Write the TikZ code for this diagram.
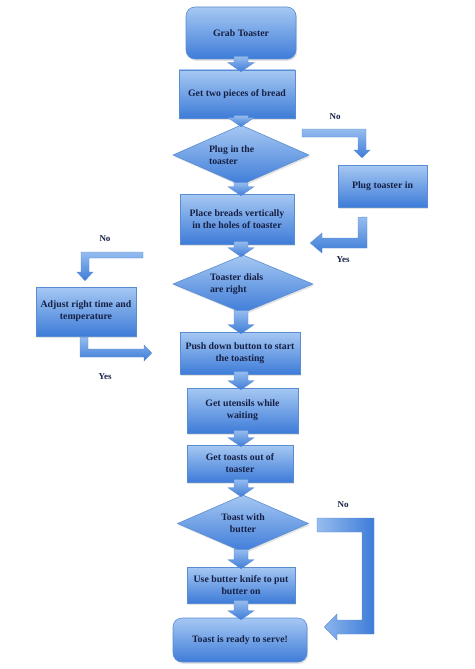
\documentclass[tikz,border=0pt]{standalone}
\usepackage{fontspec}
\setmainfont{Liberation Serif}
\usetikzlibrary{shapes.geometric,calc,shadows}
\definecolor{boxtop}{RGB}{166,200,243}
\definecolor{boxbot}{RGB}{62,124,216}
\definecolor{boxline}{RGB}{90,140,210}
\definecolor{txt}{RGB}{22,32,68}
\newcommand\vArr[2]{%
  \coordinate (s) at (col |- #1.south);
  \coordinate (t) at ($(col |- #2.north)+(0,2)$);
  \path[arr] ($(s)+(-7,-3)$) -- ($(t)+(-7,-9)$) -- ($(t)+(-13,-9)$) -- (t) --
    ($(t)+(13,-9)$) -- ($(t)+(7,-9)$) -- ($(s)+(7,-3)$) -- cycle;
}
\begin{document}
\begin{tikzpicture}[x=1pt,y=-1pt,
  blk/.style={draw=boxline, line width=0.6pt, top color=boxtop, bottom color=boxbot,
    font=\bfseries\fontsize{9.8}{12}\selectfont, text=txt, align=center, inner sep=2pt,
    drop shadow={opacity=0.22, shadow xshift=1.2pt, shadow yshift=-1.8pt}},
  rbox/.style={blk, rectangle},
  rrbox/.style={blk, rectangle, rounded corners=9pt},
  dbox/.style={blk, diamond, inner sep=1pt},
  arr/.style={draw=boxline, line width=0.4pt, top color=boxtop!85!boxbot, bottom color=boxbot},
  arrlr/.style={draw=boxline, line width=0.4pt, left color=boxtop!85!boxbot, right color=boxbot},
  lbl/.style={font=\bfseries\fontsize{9}{11}\selectfont, text=txt}
]
\useasboundingbox (0,0) rectangle (474,669);
\coordinate (col) at (241,0);

\node[rrbox, minimum width=110pt, minimum height=52pt] (grab) at (241,33) {Grab Toaster};
\node[rbox, minimum width=116pt, minimum height=48pt] (get) at (237,94) {Get two pieces of bread};
\node[dbox, minimum width=136pt, minimum height=60pt, aspect=2.27, text width=64pt, align=flush left] (plug) at (241,155) {Plug in the\\toaster};
\node[rbox, minimum width=114pt, minimum height=50pt] (place) at (237,219) {Place breads vertically\\in the holes of toaster};
\node[rbox, minimum width=89pt, minimum height=42pt] (plugin) at (382.5,186) {Plug toaster in};
\node[dbox, minimum width=140pt, minimum height=58pt, aspect=2.41, text width=66pt, align=flush left] (dials) at (243,284) {Toaster dials\\are right};
\node[rbox, minimum width=100pt, minimum height=49pt] (adjust) at (86,311.5) {Adjust right time and\\temperature};
\node[rbox, minimum width=120pt, minimum height=42pt] (push) at (240,353) {Push down button to start\\the toasting};
\node[rbox, minimum width=111pt, minimum height=45pt] (utensils) at (242.5,410.5) {Get utensils while\\waiting};
\node[rbox, minimum width=106pt, minimum height=37pt] (toasts) at (240,463.5) {Get toasts out of\\toaster};
\node[dbox, minimum width=131pt, minimum height=57pt, aspect=2.3] (butter) at (243,523.5) {Toast with\\butter};
\node[rbox, minimum width=108pt, minimum height=36pt] (knife) at (241,585) {Use butter knife to put\\butter on};
\node[rrbox, minimum width=134pt, minimum height=44pt] (ready) at (240,640) {Toast is ready to serve!};

% straight block arrows
\vArr{grab}{get}
\vArr{get}{plug}
\vArr{plug}{place}
\vArr{place}{dials}
\vArr{dials}{push}
\vArr{push}{utensils}
\vArr{utensils}{toasts}
\vArr{toasts}{butter}
\vArr{butter}{knife}
\vArr{knife}{ready}

% No: plug -> plugin
\path[arr] (302,129) -- (366,129) -- (366,150) -- (370,150) -- ($(plugin.north)+(-20.5,-7)$) -- (354,150) -- (358,150) -- (358,137) -- (302,137) -- cycle;
% Yes: plugin -> place
\path[arr] ($(plugin.south)+(-24.5,10)$) -- (367,217) -- (367,248) -- (322,248) -- (322,253) -- ($(place.east)+(16,24)$) -- (322,233) -- (322,238) -- (358,238) -- cycle;
% No: dials -> adjust
\path[arr] (143,252) -- (81,252) -- (81,272) -- (77,272) -- ($(adjust.north)+(-1,-6)$) -- (93,272) -- (89,272) -- (89,258) -- (143,258) -- cycle;
% Yes: adjust -> push
\path[arr] ($(adjust.south)+(-6,1)$) -- (88,337) -- (88,349) -- (144,349) -- (144,345) -- ($(push.west)+(-28,0)$) -- (144,361) -- (144,357) -- (80,357) -- cycle;
% No: butter -> ready
\path[arrlr] (317,518) -- (374,518) -- (374,634) -- (337,634) -- (337,640) -- ($(ready.east)+(17,-13)$) -- (337,614) -- (337,620) -- (362,620) -- (362,532) -- (317,532) -- cycle;

\node[lbl] (no1) at (335,117) {No};
\node[lbl] (yes1) at (343,260) {Yes};
\node[lbl] (no2) at (105,239) {No};
\node[lbl] (yes2) at (105,377) {Yes};
\node[lbl] (no3) at (343,505) {No};
\end{tikzpicture}
\end{document}
